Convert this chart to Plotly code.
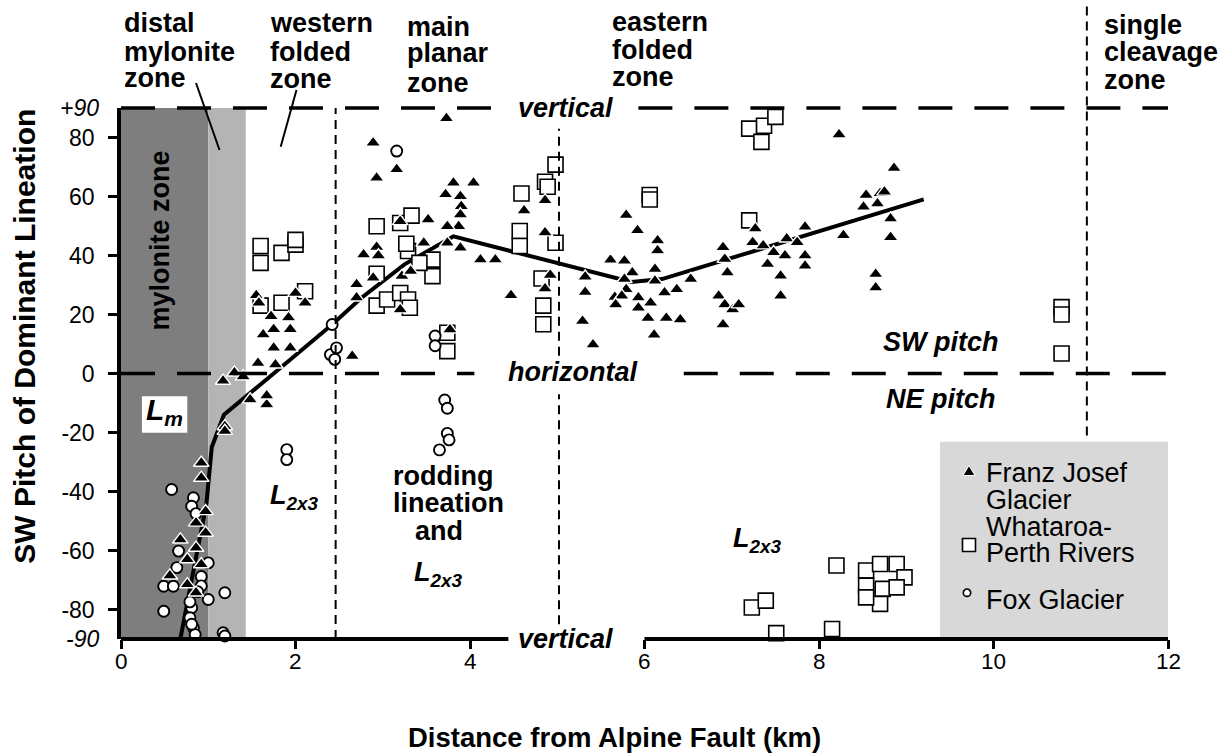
import plotly.graph_objects as go

# ---------------- data ----------------
# Franz Josef Glacier (filled triangles)
fj_km = [1.17, 1.30, 1.40, 1.57, 1.77, 1.48, 1.67, 1.67, 1.19, 1.19, 0.92, 0.92, 0.97, 0.86, 0.97,
         0.68, 0.86, 0.76, 0.92, 0.56, 0.76, 0.86,
         1.55, 1.58, 2.00, 2.11, 1.72, 1.92, 1.63, 1.75, 1.94, 1.75, 1.94,
         3.73, 2.89, 3.16, 2.93, 3.81, 4.04, 3.72, 3.89, 3.90, 3.89, 3.87, 3.74, 3.52, 3.20, 3.74,
         3.89, 3.47, 4.12, 4.29, 2.93, 2.78, 2.95, 2.89, 3.22, 3.32, 2.70, 2.70, 3.20, 3.77, 2.65,
         4.47, 4.62, 4.86, 4.86, 4.92, 4.86, 5.32, 5.32, 5.29, 5.41, 5.61, 5.66,
         8.23, 8.86, 5.79, 5.92, 6.15, 6.15, 5.77, 5.86, 5.77, 6.12, 6.12, 5.79, 5.93, 6.07, 5.74,
         5.67, 5.93, 6.04, 6.25, 6.41, 6.11, 6.37, 6.53, 6.23, 6.90, 6.92, 6.95, 6.85, 6.92, 7.01,
         7.08, 6.90, 7.27, 7.24, 7.36, 7.48, 7.41, 7.61, 7.63, 7.75, 7.84, 7.84, 7.84, 7.56, 7.56,
         8.28, 8.54, 8.70, 8.67, 8.51, 8.75, 8.82, 8.82, 8.65, 8.65]
fj_pitch = [-2.5, 0.3, -1.0, 3.5, 3.0, -8.8, -10.5, -7.5, -17.9, -19.5, -30.3, -35.4, -46.7, -50.6, -54.0,
            -56.3, -59.1, -63.0, -64.7, -68.5, -71.5, -74.3,
            26.5, 24.0, 27.3, 24.0, 19.4, 19.0, 13.2, 15.0, 15.0, 8.7, 8.7,
            86.5, 78.2, 69.2, 66.3, 64.6, 64.6, 60.7, 60.1, 56.7, 53.9, 49.9, 49.9, 52.2, 51.6, 44.3,
            42.6, 44.3, 38.6, 38.6, 42.9, 40.3, 40.0, 32.4, 33.0, 34.7, 30.2, 25.7, 21.7, 14.9, 5.9,
            26.5, 55.2, 58.7, 47.8, 33.4, 28.8, 32.8, 27.6, 17.8, 9.8, 38.5, 25.9,
            81.0, 69.6, 53.7, 48.5, 45.1, 41.7, 38.2, 34.2, 32.0, 35.4, 31.4, 28.5, 25.7, 24.0, 26.3,
            23.4, 22.3, 18.8, 18.8, 18.3, 13.1, 28.5, 32.0, 27.4, 42.8, 38.8, 34.2, 26.3, 23.4, 21.7,
            23.4, 16.6, 49.1, 44.5, 43.4, 41.1, 37.1, 40.0, 45.7, 44.5, 49.7, 40.0, 36.5, 33.1, 26.3,
            46.8, 60.5, 61.1, 57.6, 56.5, 61.6, 52.5, 46.2, 33.7, 29.1]

# Whataroa-Perth Rivers (open squares)
wp_km = [1.60, 1.60, 1.84, 2.00, 2.00, 2.11, 1.84, 1.60,
         2.93, 2.93, 2.93, 3.20, 3.33, 3.29, 3.27, 3.57, 3.57, 3.05, 3.20, 3.29, 3.31, 3.42, 3.74, 3.74,
         4.59, 4.57, 4.57, 4.86, 4.89, 4.98, 4.98, 4.82, 4.84, 4.84,
         6.06, 6.06, 7.20, 7.37, 7.34, 7.50, 7.20, 10.78, 10.78, 10.78,
         8.20, 8.54, 8.70, 8.89, 8.98, 8.54, 8.73, 8.89, 8.70, 8.54, 7.23, 7.39, 7.51, 8.15]
wp_pitch = [43.2, 37.5, 40.9, 43.7, 45.3, 27.9, 24.0, 23.0,
            49.9, 33.8, 23.0, 51.0, 53.5, 41.5, 44.0, 38.6, 33.0, 25.1, 27.3, 25.1, 22.3, 37.5, 13.8, 7.6,
            61.0, 48.3, 43.2, 65.0, 63.3, 70.8, 44.3, 32.2, 23.0, 16.7,
            60.5, 59.0, 83.0, 84.0, 78.5, 87.0, 51.9, 22.5, 20.0, 6.8,
            -65.1, -66.8, -64.6, -64.6, -69.1, -71.9, -73.0, -72.5, -78.1, -75.9, -79.3, -77.0, -88.0, -86.6]

# Fox Glacier (open circles)
fox_km = [0.58, 0.83, 0.81, 0.86, 0.66, 1.00, 0.64, 0.49, 0.60, 0.92, 0.92, 1.19, 1.00, 0.49, 0.81,
          0.79, 0.83, 0.85, 1.17, 1.19, 0.81, 0.79, 0.88,
          3.16, 2.42, 2.40, 2.47, 2.45, 3.60, 3.60, 3.71, 3.74, 3.74, 3.76, 3.65, 1.90, 1.90]
fox_pitch = [-39.3, -42.1, -45.0, -47.5, -60.2, -64.2, -65.8, -72.1, -72.1, -68.8, -72.0, -74.3, -76.6, -80.6, -79.4,
             -82.8, -86.2, -88.5, -87.9, -89.0, -85.0, -77.4, -74.0,
             75.4, 16.6, 6.4, 8.7, 4.8, 12.7, 9.4, -9.0, -11.8, -20.3, -22.5, -25.9, -25.8, -29.2]

# hand-drawn trend of dominant lineation pitch
trend_km = [0.68, 0.98, 1.04, 1.18, 1.75, 2.42, 2.75, 3.25, 3.81, 5.85, 6.20, 9.20]
trend_pitch = [-90, -44, -25, -14, 0, 16.6, 25.5, 37, 46.5, 31, 32, 59]

x_ticks = [0, 2, 4, 6, 8, 10, 12]
y_ticks = [-80, -60, -40, -20, 0, 20, 40, 60, 80]
zone_bounds = [2.46, 5.02, 11.07]      # km, zone boundaries (thin dashed)
mylonite_bands = [0.0, 1.0, 1.43]      # km, mylonite zone / distal mylonite zone
zone_labels = [["distal", "mylonite", "zone"], ["western", "folded", "zone"],
               ["main", "planar", "zone"], ["eastern", "folded", "zone"],
               ["single", "cleavage", "zone"]]
legend_labels = [["Franz Josef", "Glacier"], ["Whataroa-", "Perth Rivers"], ["Fox Glacier"]]

# ---------------- layout geometry ----------------
W, H = 1232, 754
ML, MR, MT, MB = 121, 64, 108, 115
PW, PH = W - ML - MR, H - MT - MB
XMAX = 12.0
FONT = "Liberation Sans, Arial, Helvetica, sans-serif"


def xp(km):
    return km / XMAX


def yp(v):
    return (v + 90.0) / 180.0


def pxx(px):
    return (px - ML) / PW


def pxy(py):
    return (H - MB - py) / PH


fig = go.Figure()

fig.add_trace(go.Scatter(x=trend_km, y=trend_pitch, mode="lines",
                         line=dict(color="black", width=4), showlegend=False,
                         hoverinfo="skip"))
fig.add_trace(go.Scatter(x=wp_km, y=wp_pitch, mode="markers", name="Whataroa-Perth Rivers",
                         marker=dict(symbol="square", size=15, color="white",
                                     line=dict(color="black", width=1.6)),
                         cliponaxis=False, showlegend=False))
fig.add_trace(go.Scatter(x=fox_km, y=fox_pitch, mode="markers", name="Fox Glacier",
                         marker=dict(symbol="circle", size=11, color="white",
                                     line=dict(color="black", width=1.9)),
                         cliponaxis=False, showlegend=False))
fig.add_trace(go.Scatter(x=fj_km, y=fj_pitch, mode="markers", name="Franz Josef Glacier",
                         marker=dict(symbol="triangle-up", size=13.5, color="black",
                                     line=dict(color="white", width=1.4)),
                         cliponaxis=False, showlegend=False))

shapes = []
# mylonite zone shading
shapes.append(dict(type="rect", xref="paper", yref="paper", x0=xp(mylonite_bands[0]),
                   x1=xp(mylonite_bands[1]), y0=0, y1=1, fillcolor="rgb(126,126,126)",
                   line=dict(width=0), layer="below"))
shapes.append(dict(type="rect", xref="paper", yref="paper", x0=xp(mylonite_bands[1]),
                   x1=xp(mylonite_bands[2]), y0=0, y1=1, fillcolor="rgb(180,180,180)",
                   line=dict(width=0), layer="below"))
# white box behind L_m
shapes.append(dict(type="rect", xref="paper", yref="paper", x0=xp(0.24), x1=xp(0.76),
                   y0=yp(-20.1), y1=yp(-7.7), fillcolor="white", line=dict(width=0),
                   layer="below"))
# legend box
shapes.append(dict(type="rect", xref="paper", yref="paper", x0=pxx(940), x1=1.0,
                   y0=0, y1=pxy(441.7), fillcolor="rgb(216,216,216)", line=dict(width=0),
                   layer="below"))

thick_dash = "34px,22px"
# +90 (vertical) dashed line
for a, b in [(0, 4.42), (5.93, 12)]:
    shapes.append(dict(type="line", xref="paper", yref="paper", x0=xp(a), x1=xp(b),
                       y0=1, y1=1, line=dict(color="black", width=3.5, dash=thick_dash)))
# 0 (horizontal) dashed line
for a, b in [(0, 4.05), (6.45, 12)]:
    shapes.append(dict(type="line", xref="paper", yref="paper", x0=xp(a), x1=xp(b),
                       y0=yp(0), y1=yp(0), line=dict(color="black", width=3.5, dash=thick_dash)))
# -90 axis line (broken for the label)
for a, b in [(0, 4.44), (6.0, 12)]:
    shapes.append(dict(type="line", xref="paper", yref="paper", x0=xp(a), x1=xp(b),
                       y0=0, y1=0, line=dict(color="black", width=3.8)))

thin = dict(color="black", width=2, dash="9px,6px")
shapes.append(dict(type="line", xref="paper", yref="paper", x0=xp(zone_bounds[0]),
                   x1=xp(zone_bounds[0]), y0=0, y1=1, line=thin))
for a, b in [(-85, -7), (6, 83)]:
    shapes.append(dict(type="line", xref="paper", yref="paper", x0=xp(zone_bounds[1]),
                       x1=xp(zone_bounds[1]), y0=yp(a), y1=yp(b), line=thin))
shapes.append(dict(type="line", xref="paper", yref="paper", x0=xp(zone_bounds[2]),
                   x1=xp(zone_bounds[2]), y0=yp(-21), y1=pxy(5), line=thin))

# leader lines from zone labels
shapes.append(dict(type="line", xref="paper", yref="paper", x0=pxx(196), y0=pxy(83),
                   x1=pxx(219.5), y1=pxy(150), line=dict(color="black", width=2)))
shapes.append(dict(type="line", xref="paper", yref="paper", x0=pxx(296.5), y0=pxy(90),
                   x1=pxx(280.7), y1=pxy(146.7), line=dict(color="black", width=2)))

# legend symbols
tx, ty = 969, 470.7
shapes.append(dict(type="path", xref="paper", yref="paper",
                   path="M %f %f L %f %f L %f %f Z" % (pxx(tx - 6), pxy(ty + 4.8), pxx(tx + 6), pxy(ty + 4.8),
                                                      pxx(tx), pxy(ty - 5.2)),
                   fillcolor="black", line=dict(color="white", width=1)))
shapes.append(dict(type="rect", xref="paper", yref="paper", x0=pxx(962.5), x1=pxx(975.5),
                   y0=pxy(551.5), y1=pxy(538.5), fillcolor="white",
                   line=dict(color="black", width=1.6)))
shapes.append(dict(type="circle", xref="paper", yref="paper", x0=pxx(963.3), x1=pxx(970.7),
                   y0=pxy(596.4), y1=pxy(589), fillcolor="white",
                   line=dict(color="black", width=1.6)))

ann = []


def add(text, x, y, size, xref="x", yref="y", xanchor="center", yanchor="middle", angle=0,
        color="black"):
    ann.append(dict(text=text, x=x, y=y, xref=xref, yref=yref, xanchor=xanchor,
                    yanchor=yanchor, showarrow=False, textangle=angle,
                    font=dict(family=FONT, size=size, color=color)))


# zone labels above the plot
zone_pos = [(124, [23.3, 51.7, 78.3]), (270, [23, 51.5, 79]), (407, [27, 53, 82.5]),
            (612, [22, 50, 77]), (1103.5, [25, 52, 80])]
for lines, (lx, ys) in zip(zone_labels, zone_pos):
    for t, yy in zip(lines, ys):
        add("<b>%s</b>" % t, pxx(lx - 2), pxy(yy), 27, "paper", "paper", xanchor="left")

# x tick labels (placed as text on the tick positions)
for v in x_ticks:
    add(str(v), v, pxy(661), 22.5, "x", "paper")

# axis titles
add("<b>SW Pitch of Dominant Lineation</b>", pxx(25), pxy(336.7), 30, "paper", "paper", angle=-90)
add("<b>Distance from Alpine Fault (km)</b>", pxx(614), pxy(737), 27.5, "paper", "paper")

# +90 / -90 labels
add("<i>+90</i>", pxx(101), 1, 23, "paper", "paper", xanchor="right")
add("<i>-90</i>", pxx(101), 0, 23, "paper", "paper", xanchor="right")

# in-plot labels
add("<b>mylonite zone</b>", 0.45, 45.2, 27, angle=-90)
add("<b><i>L<sub>m</sub></i></b>", 0.50, -13.0, 30)
add("<b><i>L<sub>2x3</sub></i></b>", 1.99, -42, 27)
add("<b>rodding</b>", 3.69, -34.8, 27)
add("<b>lineation</b>", 3.75, -43.8, 27)
add("<b>and</b>", 3.65, -53.4, 27)
add("<b><i>L<sub>2x3</sub></i></b>", 3.64, -68, 27)
add("<b><i>L<sub>2x3</sub></i></b>", 7.30, -56.5, 27)
add("<b><i>SW pitch</i></b>", 9.40, 10.8, 27)
add("<b><i>NE pitch</i></b>", 9.40, -8.8, 27)
add("<b><i>horizontal</i></b>", 5.17, 0.5, 27)
add("<b><i>vertical</i></b>", 5.09, 90, 27, yanchor="middle")
add("<b><i>vertical</i></b>", 5.09, -90, 27, yanchor="middle")

# legend text
leg_lines = [(legend_labels[0][0], 473.3), (legend_labels[0][1], 500),
             (legend_labels[1][0], 526.7), (legend_labels[1][1], 553.3),
             (legend_labels[2][0], 600)]
for t, yy in leg_lines:
    add(t, pxx(984), pxy(yy), 27, "paper", "paper", xanchor="left")

fig.update_layout(
    width=W, height=H, autosize=False,
    margin=dict(l=ML, r=MR, t=MT, b=MB, pad=0),
    paper_bgcolor="white", plot_bgcolor="white",
    showlegend=False,
    font=dict(family=FONT, color="black"),
    shapes=shapes, annotations=ann,
    xaxis=dict(range=[0, XMAX], tickvals=x_ticks, showticklabels=False,
               ticks="outside", ticklen=9, tickwidth=2.5, tickcolor="black",
               showline=False, showgrid=False, zeroline=False),
    yaxis=dict(range=[-90, 90], tickvals=y_ticks, ticktext=[str(v) for v in y_ticks],
               ticks="outside", ticklen=9, tickwidth=2.5, tickcolor="black",
               showline=True, linewidth=3.5, linecolor="black",
               showgrid=False, zeroline=False,
               tickfont=dict(family=FONT, size=23, color="black"), ticklabelstandoff=9),
)

fig.write_html("out.html", config={"displayModeBar": False},
               post_script="document.body.style.margin='0px';")
